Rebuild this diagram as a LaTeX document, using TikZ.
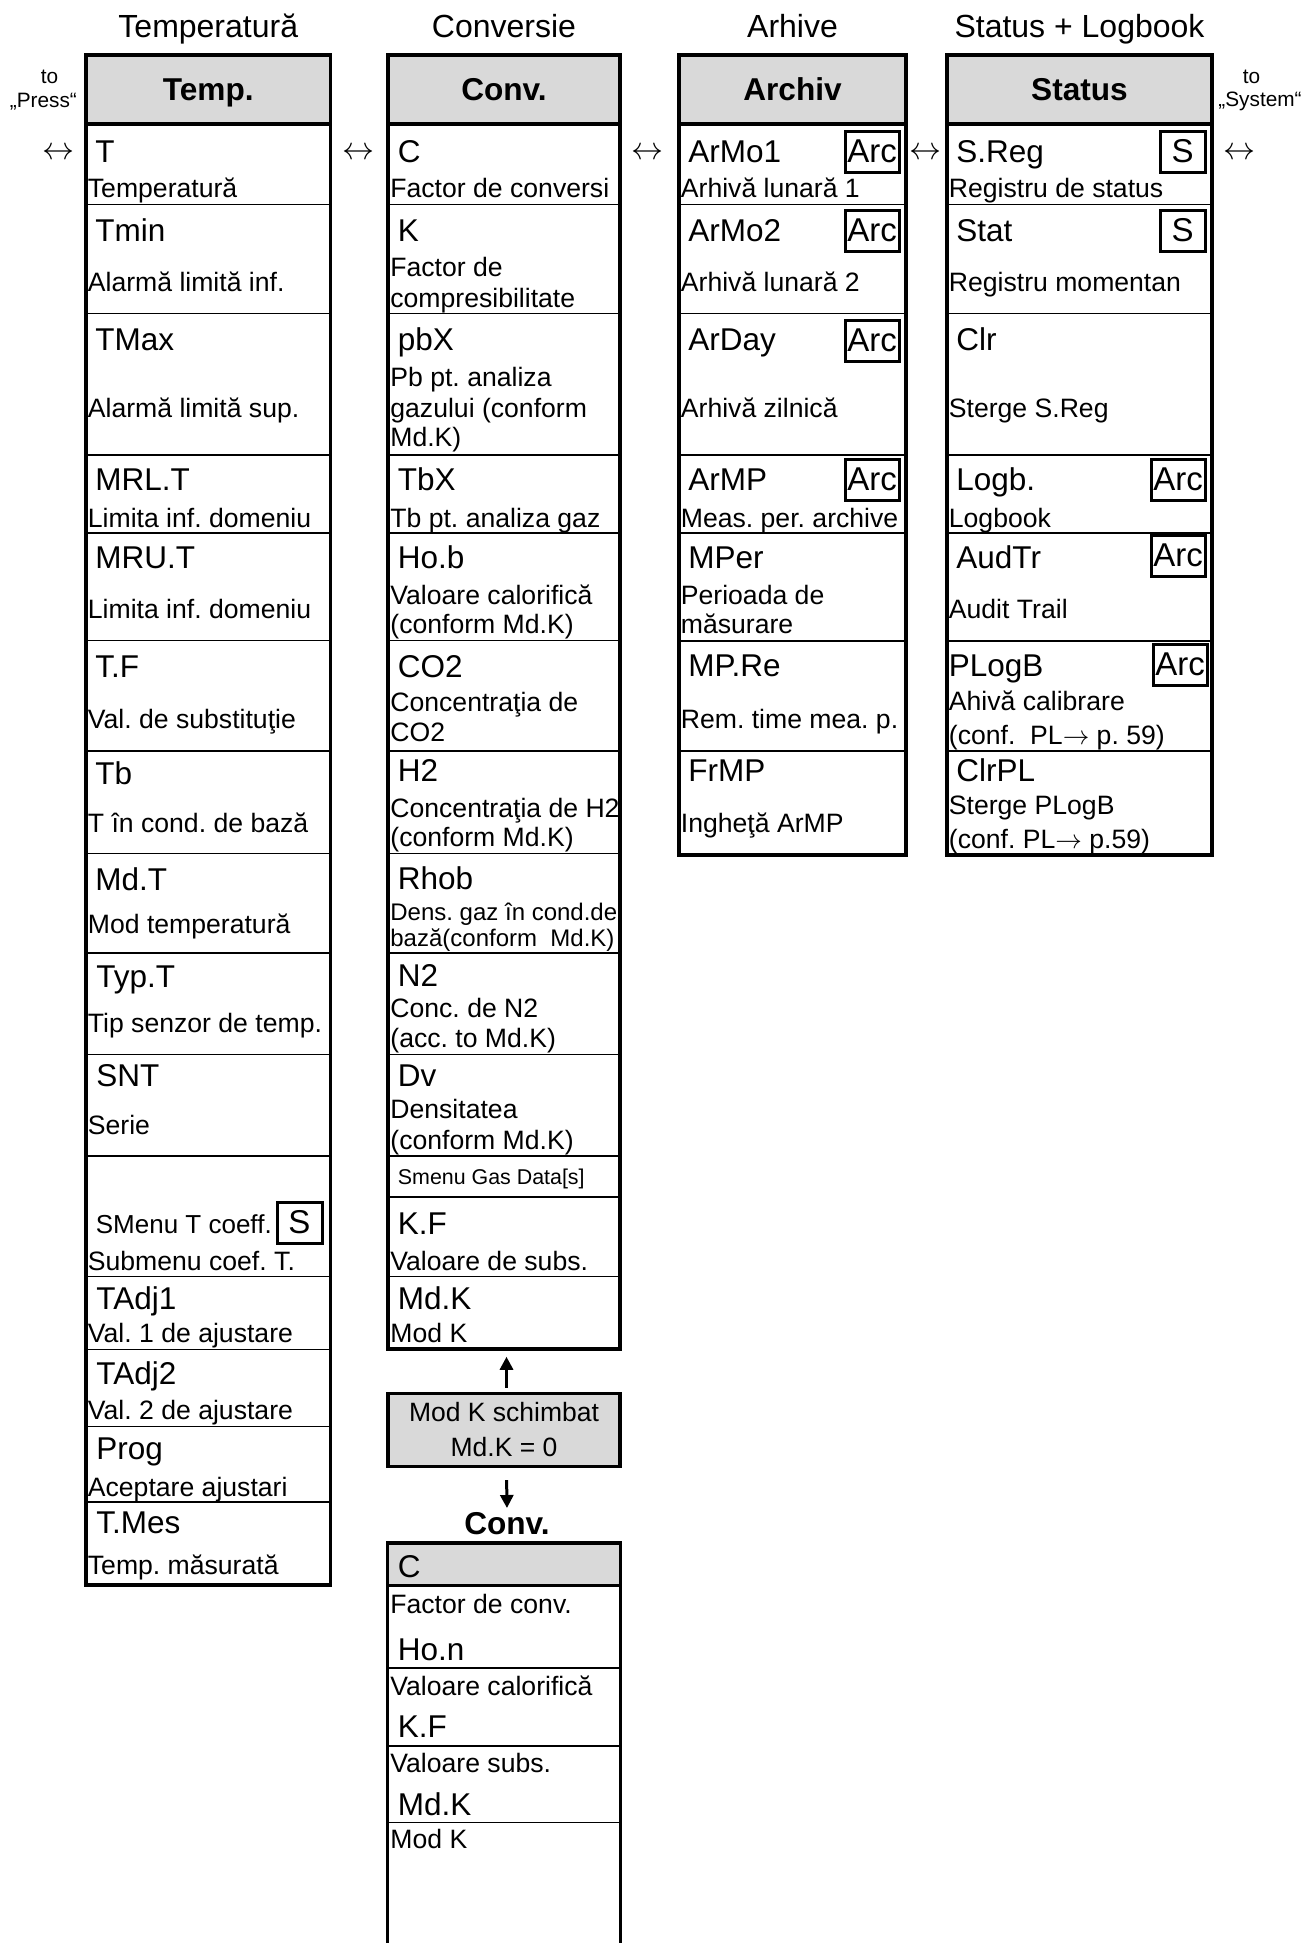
\RequirePackage{fix-cm}
\documentclass[tikz,border=0pt]{standalone}
\usepackage{fontspec}
\setmainfont{Liberation Sans}
\usetikzlibrary{fit,arrows.meta}
\definecolor{hdr}{RGB}{217,217,217}
\frenchspacing
\begin{document}
\begin{tikzpicture}[x=0.5pt,y=-0.5pt,
 colframe/.style={draw,line width=1.75pt,inner sep=0pt},
 divthin/.style={line width=0.7pt},
 divmed/.style={line width=1.1pt},
 divthick/.style={line width=1.75pt},
 itemname/.style={anchor=west,inner sep=0pt,font=\fontsize{15.75pt}{18pt}\selectfont,text height=11pt,text depth=0pt},
 itemdesc/.style={anchor=west,inner sep=0pt,font=\fontsize{13.3pt}{15pt}\selectfont,text height=9.3pt,text depth=0pt},
 smalldesc/.style={itemdesc,font=\fontsize{12pt}{14pt}\selectfont,text height=8.4pt},
 tinydesc/.style={itemdesc,font=\fontsize{10.7pt}{12pt}\selectfont,text height=7.5pt},
 coltitle/.style={inner sep=0pt,font=\fontsize{16pt}{19pt}\selectfont,text height=11.5pt,text depth=0pt},
 hdrtext/.style={inner sep=0pt,font=\fontsize{15.8pt}{19pt}\selectfont\bfseries,text height=11.4pt,text depth=0pt},
 tagbox/.style={draw,line width=1.5pt,inner sep=0pt,minimum height=20.5pt,font=\fontsize{16.5pt}{19pt}\selectfont},
 arcbox/.style={tagbox,minimum width=27pt},
 sbox/.style={tagbox,minimum width=22.5pt},
 bidir/.style={inner sep=0pt,font=\fontsize{16pt}{19pt}\selectfont},
 note/.style={inner sep=0pt,font=\fontsize{10.4pt}{12pt}\selectfont},
 arr/.style={line width=1.5pt,-{Triangle[length=6.5pt,width=6.5pt]}},
]
\useasboundingbox (0,0) rectangle (1306,1943);

% ---------- titles ----------
\node[coltitle] (ttemp) at (208.25,26) {Temperatură};
\node[coltitle] (tconv) at (504,26) {Conversie};
\node[coltitle] (tarch) at (792.5,26) {Arhive};
\node[coltitle] (tstat) at (1079.5,26) {Status + Logbook};

\node[note] (lto) at (49.6,76.8) {to};
\node[note] (lpress) at (43.4,101.6) {„Press“};
\node[note] (rto) at (1251.5,76.8) {to};
\node[note] (rsys) at (1260,101.6) {„System“};

\node[bidir] (lr0) at (58,153.6) {$\leftrightarrow$};
\node[bidir] (lr1) at (358,153.6) {$\leftrightarrow$};
\node[bidir] (lr2) at (647,153.6) {$\leftrightarrow$};
\node[bidir] (lr3) at (925.6,153.6) {$\leftrightarrow$};
\node[bidir] (lr4) at (1239,153.6) {$\leftrightarrow$};

% ---------- Temp column ----------
\fill[hdr] (86,55) rectangle (330.5,124);
\foreach \y in {204.4,313.5,454.8,532.8,640.6,750.9,853.7,952.9,1054.5,1156.1,1276.3,1349.4,1426.2,1501.8}
  \draw[divthin] (86,\y) -- (330.5,\y);
\draw[divthick] (86,124) -- (330.5,124);
\node[colframe,fit={(86,55)(330.5,1585)}] (tempbox) {};
\node[hdrtext] (temph) at (208.25,89.5) {Temp.};

\node[itemname] (tn1) at (95,151) {T};
\node[itemdesc] (td1) at (87.5,188) {Temperatură};
\node[itemname] (tn2) at (95,230.5) {Tmin};
\node[itemdesc] (td2) at (87.5,282.5) {Alarmă limită inf.};
\node[itemname] (tn3) at (95,339.5) {TMax};
\node[itemdesc] (td3) at (87.5,407.7) {Alarmă limită sup.};
\node[itemname] (tn4) at (95,479.5) {MRL.T};
\node[itemdesc] (td4) at (87.5,518) {Limita inf. domeniu};
\node[itemname] (tn5) at (95,557.6) {MRU.T};
\node[itemdesc] (td5) at (87.5,609.6) {Limita inf. domeniu};
\node[itemname] (tn6) at (95,666.6) {T.F};
\node[itemdesc] (td6) at (87.5,718.7) {Val. de substituţie};
\node[itemname] (tn7) at (95,773.2) {Tb};
\node[itemdesc] (td7) at (87.5,822.8) {T în cond. de bază};
\node[itemname] (tn8) at (95,879.8) {Md.T};
\node[itemdesc] (td8) at (87.5,924.4) {Mod temperatură};
\node[itemname] (tn9) at (96,976.4) {Typ.T};
\node[itemdesc] (td9) at (87.5,1023.5) {Tip senzor de temp.};
\node[itemname] (tn10) at (96,1075.5) {SNT};
\node[itemdesc] (td10) at (87.5,1125) {Serie};
\node[itemdesc,font=\fontsize{13pt}{15pt}\selectfont] (tn11) at (95.5,1224) {SMenu T coeff.};
\node[sbox] (ts11) at (299.5,1222.5) {S};
\node[itemdesc] (td11) at (87.5,1261.4) {Submenu coef. T.};
\node[itemname] (tn12) at (96,1298.6) {TAdj1};
\node[itemdesc] (td12) at (87.5,1333.3) {Val. 1 de ajustare};
\node[itemname] (tn13) at (96,1373) {TAdj2};
\node[itemdesc] (td13) at (87.5,1410) {Val. 2 de ajustare};
\node[itemname] (tn14) at (96,1448.5) {Prog};
\node[itemdesc] (td14) at (87.5,1487) {Aceptare ajustari};
\node[itemname] (tn15) at (96,1522.9) {T.Mes};
\node[itemdesc] (td15) at (87.5,1565) {Temp. măsurată};

% ---------- Conv column ----------
\fill[hdr] (388,55) rectangle (620,124);
\foreach \y in {204.4,313.5,454.8,532.8,640.6,750.9,853.7,952.9,1054.5,1276.3}
  \draw[divthin] (388,\y) -- (620,\y);
\foreach \y in {1156.1,1196.7}
  \draw[divmed] (388,\y) -- (620,\y);
\draw[divthick] (388,124) -- (620,124);
\node[colframe,fit={(388,55)(620,1349)}] (convbox) {};
\node[hdrtext] (convh) at (504,89.5) {Conv.};

\node[itemname] (cn1) at (397.5,151) {C};
\node[itemdesc] (cd1) at (390,188) {Factor de conversi};
\node[itemname] (cn2) at (397.5,230.5) {K};
\node[itemdesc] (cd2a) at (390,267.6) {Factor de};
\node[itemdesc] (cd2b) at (390,298.6) {compresibilitate};
\node[itemname] (cn3) at (397.5,339.5) {pbX};
\node[itemdesc] (cd3a) at (390,376.7) {Pb pt. analiza};
\node[itemdesc] (cd3b) at (390,407.7) {gazului (conform};
\node[itemdesc] (cd3c) at (390,437.4) {Md.K)};
\node[itemname] (cn4) at (397.5,479.5) {TbX};
\node[itemdesc] (cd4) at (390,518) {Tb pt. analiza gaz};
\node[itemname] (cn5) at (397.5,557.6) {Ho.b};
\node[itemdesc] (cd5a) at (390,594.8) {Valoare calorifică};
\node[itemdesc] (cd5b) at (390,624.5) {(conform Md.K)};
\node[itemname] (cn6) at (397.5,666.6) {CO2};
\node[itemdesc] (cd6a) at (390,702.6) {Concentraţia de};
\node[itemdesc] (cd6b) at (390,732.3) {CO2};
\node[itemname] (cn7) at (397.5,770.7) {H2};
\node[itemdesc] (cd7a) at (390,807.9) {Concentraţia de H2};
\node[itemdesc] (cd7b) at (390,837.6) {(conform Md.K)};
\node[itemname] (cn8) at (397.5,878.5) {Rhob};
\node[smalldesc] (cd8a) at (390,912) {Dens. gaz în cond.de};
\node[smalldesc] (cd8b) at (390,938) {bază(conform\ \ Md.K)};
\node[itemname] (cn9) at (397.5,975.2) {N2};
\node[itemdesc] (cd9a) at (390,1008.6) {Conc. de N2};
\node[itemdesc] (cd9b) at (390,1038.4) {(acc. to Md.K)};
\node[itemname] (cn10) at (397.5,1075.5) {Dv};
\node[itemdesc] (cd10a) at (390,1109) {Densitatea};
\node[itemdesc] (cd10b) at (390,1140) {(conform Md.K)};
\node[tinydesc] (cn11) at (397.5,1177) {Smenu Gas Data[s]};
\node[itemname] (cn12) at (397.5,1223) {K.F};
\node[itemdesc] (cd12) at (390,1261.4) {Valoare de subs.};
\node[itemname] (cn13) at (397.5,1298.6) {Md.K};
\node[itemdesc] (cd13) at (390,1333.3) {Mod K};

% ---------- Archiv column ----------
\fill[hdr] (679,55) rectangle (906,124);
\foreach \y in {204.4,313.5,454.8}
  \draw[divthin] (679,\y) -- (906,\y);
\foreach \y in {532.8,640.6,750.9}
  \draw[divmed] (679,\y) -- (906,\y);
\draw[divthick] (679,124) -- (906,124);
\node[colframe,fit={(679,55)(906,855)}] (archbox) {};
\node[hdrtext] (archh) at (792.5,89.5) {Archiv};

\node[itemname] (an1) at (688,151) {ArMo1};
\node[arcbox] (aa1) at (872,151.5) {Arc};
\node[itemdesc] (ad1) at (680.5,188) {Arhivă lunară 1};
\node[itemname] (an2) at (688,230.5) {ArMo2};
\node[arcbox] (aa2) at (872,230.5) {Arc};
\node[itemdesc] (ad2) at (680.5,282.5) {Arhivă lunară 2};
\node[itemname] (an3) at (688,339.5) {ArDay};
\node[arcbox] (aa3) at (872,340.8) {Arc};
\node[itemdesc] (ad3) at (680.5,407.7) {Arhivă zilnică};
\node[itemname] (an4) at (688,479.5) {ArMP};
\node[arcbox] (aa4) at (872,479.5) {Arc};
\node[itemdesc] (ad4) at (680.5,518) {Meas. per. archive};
\node[itemname] (an5) at (688,557.6) {MPer};
\node[itemdesc] (ad5a) at (680.5,594.8) {Perioada de};
\node[itemdesc] (ad5b) at (680.5,624.5) {măsurare};
\node[itemname] (an6) at (688,665) {MP.Re};
\node[itemdesc] (ad6) at (680.5,718.7) {Rem. time mea. p.};
\node[itemname] (an7) at (688,770.7) {FrMP};
\node[itemdesc] (ad7) at (680.5,822.8) {Ingheţă ArMP};

% ---------- Status column ----------
\fill[hdr] (947,55) rectangle (1212,124);
\foreach \y in {204.4,313.5,454.8,532.8}
  \draw[divthin] (947,\y) -- (1212,\y);
\foreach \y in {640.6,750.9}
  \draw[divmed] (947,\y) -- (1212,\y);
\draw[divthick] (947,124) -- (1212,124);
\node[colframe,fit={(947,55)(1212,855)}] (statbox) {};
\node[hdrtext] (stath) at (1079.5,89.5) {Status};

\node[itemname] (sn1) at (956,151) {S.Reg};
\node[sbox] (ss1) at (1182.5,151.5) {S};
\node[itemdesc] (sd1) at (948.5,188) {Registru de status};
\node[itemname] (sn2) at (956,230.5) {Stat};
\node[sbox] (ss2) at (1182.5,230.5) {S};
\node[itemdesc] (sd2) at (948.5,282.5) {Registru momentan};
\node[itemname] (sn3) at (956,339.5) {Clr};
\node[itemdesc] (sd3) at (948.5,407.7) {Sterge S.Reg};
\node[itemname] (sn4) at (956,479.5) {Logb.};
\node[arcbox] (sa4) at (1178,479.5) {Arc};
\node[itemdesc] (sd4) at (948.5,518) {Logbook};
\node[itemname] (sn5) at (956,557.6) {AudTr};
\node[arcbox] (sa5) at (1178,555.7) {Arc};
\node[itemdesc] (sd5) at (948.5,609.6) {Audit Trail};
\node[itemname] (sn6) at (948.5,665) {PLogB};
\node[arcbox] (sa6) at (1180,664.6) {Arc};
\node[itemdesc] (sd6a) at (948.5,701.3) {Ahivă calibrare};
\node[itemdesc] (sd6b) at (948.5,734.8) {(conf.\ \ PL$\rightarrow$ p. 59)};
\node[itemname] (sn7) at (956,770.7) {ClrPL};
\node[itemdesc] (sd7a) at (948.5,805.4) {Sterge PLogB};
\node[itemdesc] (sd7b) at (948.5,838.9) {(conf. PL$\rightarrow$ p.59)};

% ---------- Mod K changed ----------
\node[draw,fill=hdr,line width=1.75pt,minimum width=116pt,minimum height=36.5pt,inner sep=0pt,
      align=center,font=\fontsize{13.25pt}{17.5pt}\selectfont] (modk) at (504,1430)
      {Mod K schimbat\\Md.K = 0};
\node[hdrtext] (convt) at (507,1523) {Conv.};

\draw[arr,shorten <=1.9pt,shorten >=3pt] ([xshift=1.25pt]modk.north) -- ([xshift=1.25pt]modk.north |- convbox.south);
\draw[arr,shorten <=5.9pt,shorten >=1.6pt] ([xshift=1.25pt]modk.south) -- (convt.north);

% ---------- lower Conv box ----------
\fill[hdr] (388,1543.5) rectangle (620,1585.5);
\foreach \y in {1667.8,1745.9,1822.7}
  \draw[divthin] (388,\y) -- (620,\y);
\draw[line width=1.5pt] (388,1585.5) -- (620,1585.5);
\node[inner sep=0pt,fit={(388,1543.5)(620,1950)}] (convb) {};
\draw[line width=1.75pt] (convb.south west) -- (convb.north west) -- (convb.north east) -- (convb.south east);

\node[itemname] (bn1) at (397.5,1566) {C};
\node[itemdesc] (bd1) at (390,1604.6) {Factor de conv.};
\node[itemname] (bn2) at (397.5,1649.3) {Ho.n};
\node[itemdesc] (bd2) at (390,1686.4) {Valoare calorifică};
\node[itemname] (bn3) at (397.5,1726) {K.F};
\node[itemdesc] (bd3) at (390,1763.3) {Valoare subs.};
\node[itemname] (bn4) at (397.5,1804.1) {Md.K};
\node[itemdesc] (bd4) at (390,1838.8) {Mod K};
\end{tikzpicture}
\end{document}
